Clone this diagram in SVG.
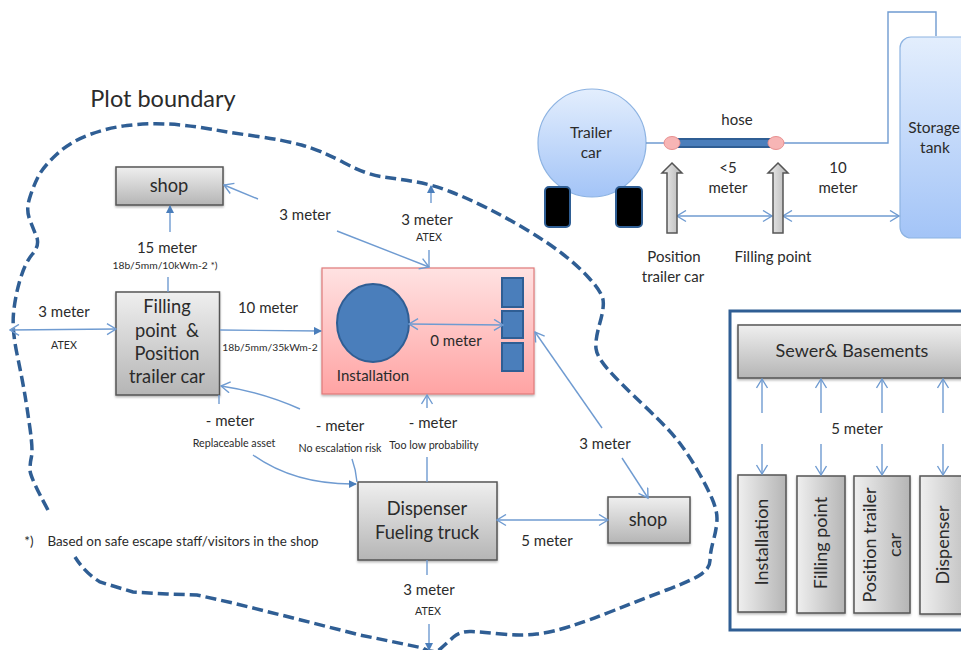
<svg xmlns="http://www.w3.org/2000/svg" width="961" height="650" viewBox="0 0 961 650">
<style>
text{font-family:"Lato","Liberation Sans",sans-serif;fill:#2b2b2b;text-anchor:middle}
.m{font-size:15px}.s{font-size:10.700px}.b{font-size:18.300px}.sb{font-size:18px}.l{font-size:15.500px}
.c{fill:none;stroke:#6f9bd1;stroke-width:1.4}
.o{marker-end:url(#open)}.f{marker-end:url(#fill)}.d{marker-start:url(#openS);marker-end:url(#open)}
.g{fill:url(#gray);stroke:#555;stroke-width:1.5;filter:url(#sh)}
.gv{fill:url(#grayH);stroke:#555;stroke-width:1.5;filter:url(#sh)}
.bl{fill:#4a7ebb;stroke:#2f5e94;stroke-width:2}
.wh{fill:#000;stroke:#2f5e94;stroke-width:2}
.ar{fill:url(#grayH);stroke:#555;stroke-width:1.5}
.pk{fill:#f7b5b5;stroke:#e89090;stroke-width:1}
</style>
<defs>
<linearGradient id="gray" x1="0" y1="0" x2="0" y2="1"><stop offset="0" stop-color="#efefef"/><stop offset="1" stop-color="#b5b5b5"/></linearGradient>
<linearGradient id="grayH" x1="0" y1="0" x2="1" y2="0"><stop offset="0" stop-color="#efefef"/><stop offset="1" stop-color="#b5b5b5"/></linearGradient>
<linearGradient id="red" x1="0" y1="0" x2="0" y2="1"><stop offset="0" stop-color="#ffe2e2"/><stop offset="1" stop-color="#ffa3a3"/></linearGradient>
<linearGradient id="blue" x1="0" y1="0" x2="0" y2="1"><stop offset="0" stop-color="#e3eefd"/><stop offset="1" stop-color="#a3c4f7"/></linearGradient>
<filter id="sh" x="-10%" y="-10%" width="120%" height="120%"><feDropShadow dx="0" dy="1.5" stdDeviation="1.2" flood-color="#000" flood-opacity=".3"/></filter>
<marker id="open" markerUnits="userSpaceOnUse" markerWidth="12" markerHeight="14" refX="10" refY="6" orient="auto"><path d="M1 0.5L10 6L1 11.5" fill="none" stroke="#6f9bd1" stroke-width="1.4"/></marker>
<marker id="openS" markerUnits="userSpaceOnUse" markerWidth="12" markerHeight="14" refX="1" refY="6" orient="auto"><path d="M10 0.5L1 6L10 11.5" fill="none" stroke="#6f9bd1" stroke-width="1.4"/></marker>
<marker id="fill" markerUnits="userSpaceOnUse" markerWidth="10" markerHeight="10" refX="7" refY="4" orient="auto"><path d="M0 0L8 4L0 8Z" fill="#4a7ebb"/></marker>
</defs>

<path id="plot-boundary" fill="none" stroke="#2f5e94" stroke-width="3.500" stroke-dasharray="11 5" d="M48 510Q30 477 30 470Q30 463 31.5 456.5Q33 450 30 428.5Q27 407 24.5 392.5Q22 378 17 354Q12 330 13.5 313.5Q15 297 20 280Q25 263 32.5 254Q40 245 36.5 236.5Q33 228 29.5 219Q26 210 29.5 198.5Q33 187 38 177Q43 167 56.5 154.5Q70 142 88.5 135Q107 128 127 125.5Q147 123 167 124Q187 125 210 129Q233 133 258 136.5Q283 140 301.5 145Q320 150 343.5 162.5Q367 175 383.5 177Q400 179 416.5 182Q433 185 450 191.5Q467 198 487 208Q507 218 527 230Q547 242 562 253.5Q577 265 588.5 277.5Q600 290 602.5 297.5Q605 305 600 322.5Q595 340 596 348.5Q597 357 608.5 370Q620 383 645 406.5Q670 430 680 443.5Q690 457 698.5 472Q707 487 712 498.5Q717 510 717 518.5Q717 527 713.5 540Q710 553 710 560.5Q710 568 701.5 574Q693 580 666.5 590Q640 600 615 610Q590 620 571.5 626Q553 632 536.5 634Q520 636 501.5 634Q483 632 471.5 631.5Q460 631 453.5 637Q447 643 438 651Q430 653 423 648Q391.5 641.5 360 635Q326.5 626.5 293 618Q263 610.5 233 603Q215 599 197 595Q182 594.5 167 594Q150 593 133 592Q116.5 587 100 582Q85 573 75 557"/>
<text x="163" y="107" style="font-size:23.500px">Plot boundary</text>

<g id="shop-top"><rect class="g" x="116" y="167" width="107" height="38"/><text class="b" x="169" y="192">shop</text></g>
<g id="filling-point"><rect class="g" x="116" y="292" width="103.500" height="103"/><text class="b" x="167" y="313">Filling</text><text class="b" x="167" y="337" xml:space="preserve">point  &amp;</text><text class="b" x="167" y="360">Position</text><text class="b" x="167" y="383">trailer car</text></g>
<g id="installation"><rect x="322" y="268" width="212" height="126" fill="url(#red)" stroke="#e07a7a" stroke-width="1.2" filter="url(#sh)"/><ellipse class="bl" cx="373" cy="323" rx="36" ry="39"/><rect class="bl" x="502" y="278" width="21" height="29"/><rect class="bl" x="502" y="311" width="21" height="27"/><rect class="bl" x="502" y="343" width="21" height="28"/><text class="m" x="373" y="381">Installation</text></g>
<g id="dispenser"><rect class="g" x="358" y="482" width="139" height="78"/><text class="b" x="427" y="515">Dispenser</text><text class="b" x="427" y="539">Fueling truck</text></g>
<g id="shop-right"><rect class="g" x="608" y="497" width="82" height="46"/><text class="b" x="648" y="526">shop</text></g>

<g id="trailer-car"><circle cx="592" cy="143" r="54" fill="url(#blue)" stroke="#8db3e2" stroke-width="1.2"/><rect class="wh" x="545" y="187" width="25" height="40" rx="4"/><rect class="wh" x="616" y="187" width="26" height="40" rx="4"/><text class="l" x="591" y="138">Trailer</text><text class="l" x="591" y="158">car</text></g>
<g id="storage-tank"><rect x="900" y="37" width="80" height="201" rx="11" fill="url(#blue)" stroke="#8db3e2" stroke-width="1.2"/><text class="l" x="934" y="133">Storage</text><text class="l" x="935" y="153">tank</text></g>

<g id="sewer-panel"><rect x="730" y="311" width="260" height="319" fill="none" stroke="#2f5e94" stroke-width="3"/></g>
<g id="sewer"><rect class="g" x="738" y="325" width="250" height="53"/><text class="sb" x="852" y="357">Sewer&amp; Basements</text></g>
<g id="box-installation"><rect class="gv" x="738" y="475" width="48" height="137"/><text class="sb" transform="translate(768 542) rotate(-90)">Installation</text></g>
<g id="box-filling"><rect class="gv" x="797" y="476" width="48" height="137"/><text class="sb" transform="translate(827 543) rotate(-90)">Filling point</text></g>
<g id="box-position"><rect class="gv" x="854" y="476" width="56" height="137"/><text class="sb" transform="translate(876 545) rotate(-90)">Position trailer</text><text class="sb" transform="translate(901 545) rotate(-90)">car</text></g>
<g id="box-dispenser"><rect class="gv" x="920" y="476" width="60" height="138"/><text class="sb" transform="translate(949 545) rotate(-90)">Dispenser</text></g>

<g id="connectors">
<path class="c d" d="M10 330L116 329"/>
<path class="c f" d="M170 232V206"/>
<path class="c" d="M168 277V292"/>
<path class="c f" d="M220 330L321 331"/>
<path class="c o" d="M258 199L224 185"/>
<path class="c o" d="M337 231L429 267"/>
<path class="c" d="M429 250V267"/>
<path class="c f" d="M431 203V186"/>
<path class="c d" d="M409 324L503 325"/>
<path class="c o" d="M602 428L535 332"/>
<path class="c o" d="M622 458L648 498"/>
<path class="c o" d="M427 408V395"/>
<path class="c" d="M427 457V482"/>
<path class="c o" d="M300 409Q262 392 221 386"/>
<path class="c" d="M219 395V404"/>
<path class="c f" d="M253 455Q295 485 356 484"/>
<path class="c" d="M352 459Q356 470 357 482"/>
<path class="c d" d="M497 520H608"/>
<path class="c" d="M427 560V575"/>
<path class="c f" d="M429 624V650"/>
<path class="c" d="M646 143H888V12H936V36"/>
<path class="c d" d="M677 216H772"/>
<path class="c d" d="M783 216H899"/>
<path class="c o" d="M762 413V379"/><path class="c o" d="M762 444V474"/>
<path class="c o" d="M821 413V379"/><path class="c o" d="M821 444V475"/>
<path class="c o" d="M882 413V379"/><path class="c o" d="M882 444V475"/>
<path class="c o" d="M943 413V379"/><path class="c o" d="M943 444V475"/>
</g>

<g id="hose"><rect class="bl" x="677" y="139" width="93" height="8"/><ellipse class="pk" cx="672" cy="143" rx="8" ry="6.500"/><ellipse class="pk" cx="776" cy="143" rx="8" ry="6.500"/></g>
<g id="position-arrow"><path class="ar" d="M672 163L682 173H677V233H667V173H662Z"/></g>
<g id="filling-arrow"><path class="ar" d="M778 163L788 173H783V233H773V173H768Z"/></g>

<g id="labels">
<text class="m" x="167" y="253">15 meter</text>
<text class="s" x="165" y="269" style="font-size:10.300px">18b/5mm/10kWm-2 *)</text>
<text class="m" x="64" y="317">3 meter</text>
<text class="s" x="64" y="349">ATEX</text>
<text class="m" x="268" y="313">10 meter</text>
<text class="s" x="270" y="351" style="font-size:10.300px">18b/5mm/35kWm-2</text>
<text class="m" x="305" y="220">3 meter</text>
<text class="m" x="427" y="225">3 meter</text>
<text class="s" x="429" y="241">ATEX</text>
<text class="m" x="456" y="346">0 meter</text>
<text class="m" x="230" y="426">- meter</text>
<text class="s" x="234" y="447">Replaceable asset</text>
<text class="m" x="340" y="431">- meter</text>
<text class="s" x="340" y="452">No escalation risk</text>
<text class="m" x="433" y="428">- meter</text>
<text class="s" x="434" y="449">Too low probability</text>
<text class="m" x="605" y="449">3 meter</text>
<text class="m" x="547" y="546">5 meter</text>
<text class="m" x="429" y="595">3 meter</text>
<text class="s" x="428" y="615">ATEX</text>
<text class="m" x="737" y="125">hose</text>
<text class="m" x="728" y="173">&lt;5</text>
<text class="m" x="728" y="193">meter</text>
<text class="m" x="838" y="173">10</text>
<text class="m" x="838" y="193">meter</text>
<text class="m" x="674" y="262">Position</text>
<text class="m" x="673" y="282">trailer car</text>
<text class="m" x="773" y="262">Filling point</text>
<text class="m" x="857" y="434">5 meter</text>
<text x="29" y="546" style="font-size:13.400px">*)</text>
<text x="183" y="546" style="font-size:13.400px">Based on safe escape staff/visitors  in the shop</text>
</g>
</svg>
